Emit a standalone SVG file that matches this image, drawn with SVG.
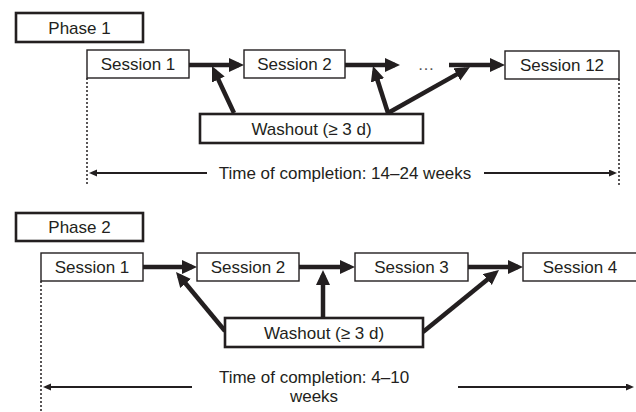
<svg xmlns="http://www.w3.org/2000/svg" width="636" height="412" viewBox="0 0 636 412">
<defs>
<style>
text{font-family:"Liberation Sans",Arial,sans-serif;font-size:17px;fill:#231f20;text-anchor:middle}
.box{fill:#fff;stroke:#231f20;stroke-width:1.4}
.bold{fill:#fff;stroke:#231f20;stroke-width:2.6}
.thick{fill:none;stroke:#231f20;stroke-width:4.5;marker-end:url(#big)}
.thin{fill:none;stroke:#231f20;stroke-width:2;marker-end:url(#small)}
.dot{fill:none;stroke:#231f20;stroke-width:1.5;stroke-dasharray:2,2}
</style>
<marker id="big" markerUnits="userSpaceOnUse" markerWidth="16" markerHeight="15" refX="10" refY="7" orient="auto">
<path d="M0,0 L15,7 L0,14 z" fill="#231f20"/>
</marker>
<marker id="small" markerUnits="userSpaceOnUse" markerWidth="9" markerHeight="8" refX="5" refY="3.5" orient="auto">
<path d="M0,0 L8,3.5 L0,7 z" fill="#231f20"/>
</marker>
</defs>

<g id="connectors">
<path class="thick" d="M189,65 H239"/>
<path class="thick" d="M345,65 H395"/>
<path class="thick" d="M449,65 H500"/>
<path class="thick" d="M234,113 L214.1,70.5"/>
<path class="thick" d="M388,113 L374.5,70.8"/>
<path class="thick" d="M388,113 L465.6,69.4"/>
<path class="thin" d="M207,173 H92"/>
<path class="thin" d="M484,173 H614"/>
<path class="dot" d="M87,78 V186"/>
<path class="dot" d="M619,79 V187"/>

<path class="thick" d="M143,267 H192"/>
<path class="thick" d="M299,267 H350"/>
<path class="thick" d="M468,267 H518"/>
<path class="thick" d="M225,331 L179.2,275.8"/>
<path class="thick" d="M323,318 V275"/>
<path class="thick" d="M423,332 L495.1,273.2"/>
<path class="thin" d="M192,387 H46"/>
<path class="thin" d="M458,387 H631"/>
<path class="dot" d="M41,281 V412"/>
</g>

<g id="phase1">
<rect class="bold" x="16" y="13" width="127" height="29"/>
<text x="79.5" y="33.5">Phase 1</text>
</g>
<g id="p1-session1">
<rect class="box" x="87" y="50" width="102" height="28"/>
<text x="138" y="70">Session 1</text>
</g>
<g id="p1-session2">
<rect class="box" x="244" y="50" width="101" height="28"/>
<text x="294.5" y="70">Session 2</text>
</g>
<g id="p1-ellipsis">
<text x="426" y="70" style="fill:#555">…</text>
</g>
<g id="p1-session12">
<rect class="box" x="505" y="51" width="114" height="28"/>
<text x="562" y="71">Session 12</text>
</g>
<g id="p1-washout">
<rect class="bold" x="200" y="114" width="223" height="29"/>
<text x="311.5" y="134.5">Washout (≥ 3 d)</text>
</g>
<g id="p1-time">
<text x="345" y="179">Time of completion: 14–24 weeks</text>
</g>

<g id="phase2">
<rect class="bold" x="16" y="213" width="127" height="28"/>
<text x="79.5" y="233">Phase 2</text>
</g>
<g id="p2-session1">
<rect class="box" x="41" y="253" width="102" height="28"/>
<text x="92" y="273">Session 1</text>
</g>
<g id="p2-session2">
<rect class="box" x="197" y="253" width="102" height="28"/>
<text x="248" y="273">Session 2</text>
</g>
<g id="p2-session3">
<rect class="box" x="355" y="253" width="113" height="28"/>
<text x="411.5" y="273">Session 3</text>
</g>
<g id="p2-session4">
<rect class="box" x="523" y="253" width="120" height="28"/>
<text x="580" y="273">Session 4</text>
</g>
<g id="p2-washout">
<rect class="bold" x="225" y="318" width="198" height="29"/>
<text x="324" y="338.5">Washout (≥ 3 d)</text>
</g>
<g id="p2-time">
<text x="314" y="383">Time of completion: 4–10</text>
<text x="314" y="402">weeks</text>
</g>
</svg>
